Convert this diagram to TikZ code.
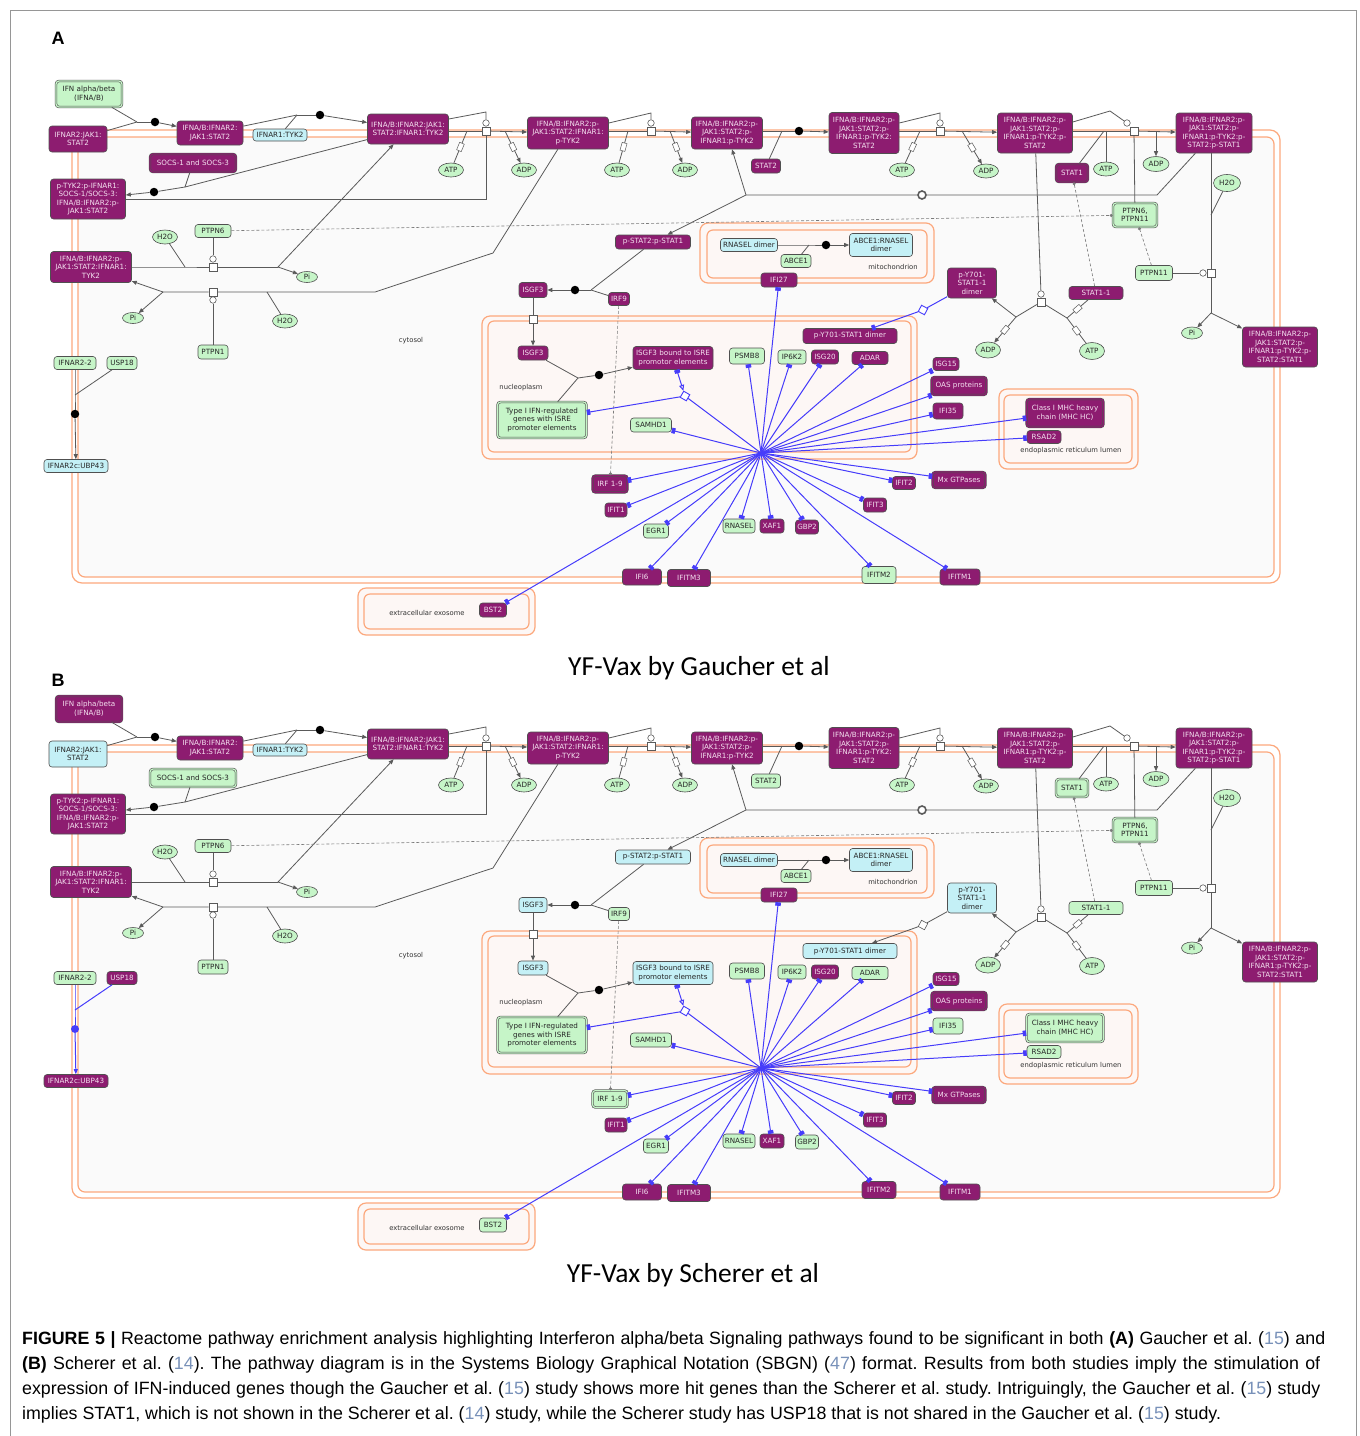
\documentclass[tikz,border=0pt]{standalone}
\usepackage{fontspec}
\setmainfont{Liberation Sans}
\newfontfamily\dvfont{DejaVu Sans}
\newfontfamily\calfont{Carlito}
\usetikzlibrary{arrows.meta,calc,shapes.geometric}
\definecolor{hitC}{RGB}{141,28,112}
\definecolor{hitT}{RGB}{245,225,240}
\definecolor{grnC}{RGB}{198,245,200}
\definecolor{cynC}{RGB}{196,240,246}
\definecolor{bordC}{RGB}{80,80,80}
\definecolor{orgC}{RGB}{252,168,125}
\definecolor{cmpC}{RGB}{253,247,245}
\definecolor{cytC}{RGB}{250,250,250}
\definecolor{lnC}{RGB}{90,90,90}
\definecolor{bluC}{RGB}{70,60,250}
\definecolor{refC}{RGB}{120,145,185}
\definecolor{frameC}{RGB}{150,150,150}
\newcommand\ndfont{\dvfont\fontsize{7.2}{8.6}\selectfont}
\newcommand\refnum[1]{\textcolor{refC}{#1}}
\frenchspacing
\tikzset{
 nd/.style={rectangle, rounded corners=3pt, draw=bordC, line width=0.6pt, inner sep=0.3pt, align=center, font=\ndfont},
 hit/.style={nd, fill=hitC, text=hitT},
 hitc/.style={hit, double=hitC, double distance=1.2pt},
 grn/.style={nd, fill=grnC, text=black!85},
 grnc/.style={grn, double=grnC, double distance=1.2pt},
 cyn/.style={nd, fill=cynC, text=black!85},
 ell/.style={ellipse, draw=bordC, fill=grnC, line width=0.6pt, inner sep=0pt, minimum width=25pt, minimum height=14pt, font=\ndfont, text=black!85},
 sz/.style 2 args={minimum width=#1pt, minimum height=#2pt},
 proc/.style={rectangle, draw=lnC, fill=white, line width=0.6pt, minimum size=8pt, inner sep=0pt},
 catc/.style={circle, draw=lnC, fill=white, line width=0.6pt, minimum size=6.5pt, inner sep=0pt},
 assoc/.style={circle, fill=black, minimum size=8.5pt, inner sep=0pt},
 bassoc/.style={circle, fill=bluC, minimum size=8pt, inner sep=0pt},
 dissoc/.style={circle, draw=lnC, fill=white, line width=1.6pt, minimum size=8pt, inner sep=0pt},
 card/.style={rectangle, draw=lnC, fill=white, line width=0.5pt, minimum width=8pt, minimum height=5pt, inner sep=0pt, sloped},
 ln/.style={draw=lnC, line width=0.8pt},
 arr/.style={ln, -{Triangle[length=5pt,width=4pt]}},
 bln/.style={draw=bluC, line width=1pt},
 barr/.style={bln, -{Rectangle[length=3.5pt,width=5.5pt]}},
 btarr/.style={bln, -{Triangle[length=5pt,width=4pt]}},
 bglyph/.style={rectangle, draw=bluC, fill=white, line width=0.9pt, minimum size=7pt, inner sep=0pt},
 dsh/.style={draw=lnC!80, line width=0.6pt, dash pattern=on 3pt off 2pt},
 lbl/.style={font=\dvfont\fontsize{6.8}{8}\selectfont, text=black!80},
 cmpo/.style={draw=orgC, line width=1.2pt, fill=cmpC, rounded corners=8pt},
 cmpi/.style={draw=orgC, line width=1.2pt, fill=cmpC, rounded corners=6pt},
}
\newcommand\drawpanel[1]{%
% compartments
\draw[cmpo, fill=white, rounded corners=10pt] (72,130) rectangle (1280,583);
\draw[cmpi, fill=cytC, rounded corners=7pt] (78,137) rectangle (1274,577);
\draw[cmpo] (700,223) rectangle (934,283);
\draw[cmpi] (707,230) rectangle (927,278);
\draw[cmpo] (482,316) rectangle (917,459);
\draw[cmpi] (488,321) rectangle (911,452);
\draw[cmpo] (999,389) rectangle (1138,469);
\draw[cmpi] (1004,395) rectangle (1132,463);
\draw[cmpo] (358,588) rectangle (535,635);
\draw[cmpi] (364,594) rectangle (529,629);
\node[lbl] (#1lcyt) at (411,341) {cytosol};
\node[lbl] (#1lnuc) at (521,388) {nucleoplasm};
\node[lbl] (#1lmit) at (893,267) {mitochondrion};
\node[lbl] (#1ler) at (1071,451) {endoplasmic reticulum lumen};
\node[lbl] (#1lexo) at (427,613) {extracellular exosome};
% nodes
\node[vIFN, sz={66}{26}] (#1ifn) at (89,94) {IFN alpha/beta\\(IFNA/B)};
\node[vIR2, sz={58}{26}] (#1ir2) at (78,139) {IFNAR2:JAK1:\\STAT2};
\node[hit, sz={66}{24}] (#1c3) at (210,133) {IFNA/B:IFNAR2:\\JAK1:STAT2};
\node[cyn, sz={54}{12}] (#1ir1) at (280,135) {IFNAR1:TYK2};
\node[hit, sz={81}{30}] (#1c5) at (408,129) {IFNA/B:IFNAR2:JAK1:\\STAT2:IFNAR1:TYK2};
\node[vSOCS, sz={86}{18}] (#1socs) at (193,163) {SOCS-1 and SOCS-3};
\node[hit, sz={75}{40}] (#1c7) at (88,199) {p-TYK2:p-IFNAR1:\\SOCS-1/SOCS-3:\\IFNA/B:IFNAR2:p-\\JAK1:STAT2};
\node[ell] (#1h2oa) at (165,237) {H2O};
\node[grn, sz={36}{13}] (#1ptpn6) at (213,231) {PTPN6};
\node[hit, sz={81}{31}] (#1c10) at (91,267) {IFNA/B:IFNAR2:p-\\JAK1:STAT2:IFNAR1:\\TYK2};
\node[ell, minimum width=21pt, minimum height=11pt] (#1pia) at (307,277) {Pi};
\node[ell, minimum width=21pt, minimum height=11pt] (#1pib) at (133,318) {Pi};
\node[ell] (#1h2ob) at (285,321) {H2O};
\node[grn, sz={30}{14}] (#1ptpn1) at (213,352) {PTPN1};
\node[grn, sz={42}{13}] (#1ir22) at (75,363) {IFNAR2-2};
\node[vUSP, sz={30}{13}] (#1usp) at (122,363) {USP18};
\node[vUBP, sz={64}{13}] (#1ubp) at (76,466) {IFNAR2c:UBP43};
\node[hit, sz={81}{32}] (#1c18) at (568,133) {IFNA/B:IFNAR2:p-\\JAK1:STAT2:IFNAR1:\\p-TYK2};
\node[ell] (#1atp1) at (451,170) {ATP};
\node[ell] (#1adp1) at (524,170) {ADP};
\node[ell] (#1atp2) at (617,170) {ATP};
\node[ell] (#1adp2) at (685,170) {ADP};
\node[hit, sz={71}{32}] (#1c23) at (727,133) {IFNA/B:IFNAR2:p-\\JAK1:STAT2:p-\\IFNAR1:p-TYK2};
\node[vSTAT2, sz={29}{14}] (#1stat2) at (766,166) {STAT2};
\node[hit, sz={70}{41}] (#1c25) at (864,133) {IFNA/B:IFNAR2:p-\\JAK1:STAT2:p-\\IFNAR1:p-TYK2:\\STAT2};
\node[ell] (#1atp3) at (902,170) {ATP};
\node[ell] (#1adp3) at (986,171) {ADP};
\node[hit, sz={75}{40}] (#1c35) at (1035,133) {IFNA/B:IFNAR2:p-\\JAK1:STAT2:p-\\IFNAR1:p-TYK2:p-\\STAT2};
\node[vSTAT1, sz={32}{18}] (#1stat1) at (1072,173) {STAT1};
\node[ell] (#1atp4) at (1106,169) {ATP};
\node[ell, minimum width=26pt, minimum height=15pt] (#1adp4) at (1156,164) {ADP};
\node[hit, sz={76}{40}] (#1c39) at (1214,133) {IFNA/B:IFNAR2:p-\\JAK1:STAT2:p-\\IFNAR1:p-TYK2:p-\\STAT2:p-STAT1};
\node[ell, minimum width=27pt, minimum height=17pt] (#1h2oc) at (1227,183) {H2O};
\node[grnc, sz={44}{24}] (#1ptpn611) at (1135,215) {PTPN6,\\PTPN11};
\node[grn, sz={37}{15}] (#1ptpn11) at (1154,273) {PTPN11};
\node[vPYD1, sz={49}{30}] (#1pyd1) at (972,283) {p-Y701-\\STAT1-1\\dimer};
\node[vSTAT11, sz={54}{13}] (#1stat11) at (1096,293) {STAT1-1};
\node[ell, minimum width=25pt, minimum height=16pt] (#1adp5) at (988,350) {ADP};
\node[ell, minimum width=25pt, minimum height=17pt] (#1atp5) at (1092,351) {ATP};
\node[ell, minimum width=21pt, minimum height=12pt] (#1pic) at (1192,333) {Pi};
\node[hit, sz={75}{40}] (#1c48) at (1280,347) {IFNA/B:IFNAR2:p-\\JAK1:STAT2:p-\\IFNAR1:p-TYK2:p-\\STAT2:STAT1};
\node[vPST, sz={75}{14}] (#1pst) at (653,242) {p-STAT2:p-STAT1};
\node[vISGa, sz={28}{15}] (#1isgf3a) at (533,290) {ISGF3};
\node[vIRF9, sz={21}{13}] (#1irf9) at (619,299) {IRF9};
\node[cyn, sz={57}{13}] (#1rnd) at (749,245) {RNASEL dimer};
\node[grn, sz={30}{13}] (#1abce1) at (796,261) {ABCE1};
\node[cyn, sz={63}{23}] (#1arn) at (881,245) {ABCE1:RNASEL\\dimer};
\node[hit, sz={36}{14}] (#1ifi27) at (779,280) {IFI27};
\node[vISGb, sz={30}{14}] (#1isgf3b) at (533,353) {ISGF3};
\node[vISRE, sz={80}{23}] (#1isre) at (673,358) {ISGF3 bound to ISRE\\promotor elements};
\node[grnc, sz={89}{36}] (#1genes) at (542,420) {Type I IFN-regulated\\genes with ISRE\\promoter elements};
\node[grn, sz={41}{14}] (#1samhd1) at (651,425) {SAMHD1};
\node[grn, sz={35}{16}] (#1psmb8) at (747,356) {PSMB8};
\node[grn, sz={28}{14}] (#1ip6k2) at (792,357) {IP6K2};
\node[hit, sz={27}{14}] (#1isg20) at (825,357) {ISG20};
\node[vADAR, sz={36}{13}] (#1adar) at (870,358) {ADAR};
\node[vPYD2, sz={94}{15}] (#1pyd2) at (850,336) {p-Y701-STAT1 dimer};
\node[hit, sz={26}{13}] (#1isg15) at (946,364) {ISG15};
\node[hitc, sz={55}{18}] (#1oas) at (959,386) {OAS proteins};
\node[vIFI35, sz={30}{16}] (#1ifi35) at (948,411) {IFI35};
\node[vMHC, sz={77}{28}] (#1mhc) at (1065,413) {Class I MHC heavy\\chain (MHC HC)};
\node[vRSAD2, sz={34}{13}] (#1rsad2) at (1044,437) {RSAD2};
\node[hitc, sz={53}{16}] (#1mx) at (959,480) {Mx GTPases};
\node[vIRF19, sz={35}{17}] (#1irf19) at (610,484) {IRF 1-9};
\node[hit, sz={22}{14}] (#1ifit1) at (616,510) {IFIT1};
\node[grn, sz={25}{14}] (#1egr1) at (656,531) {EGR1};
\node[grn, sz={32}{14}] (#1rnasel) at (739,526) {RNASEL};
\node[hit, sz={24}{14}] (#1xaf1) at (772,526) {XAF1};
\node[vGBP2, sz={23}{14}] (#1gbp2) at (807,527) {GBP2};
\node[hit, sz={23}{13}] (#1ifit2) at (904,483) {IFIT2};
\node[hit, sz={23}{14}] (#1ifit3) at (875,505) {IFIT3};
\node[hit, sz={39}{16}] (#1ifi6) at (642,577) {IFI6};
\node[hit, sz={43}{17}] (#1ifitm3) at (689,578) {IFITM3};
\node[vIFITM2, sz={34}{17}] (#1ifitm2) at (879,575) {IFITM2};
\node[hit, sz={40}{16}] (#1ifitm1) at (960,577) {IFITM1};
\node[vBST2, sz={27}{14}] (#1bst2) at (493,610) {BST2};
% R1
\coordinate (#1j1) at (137,122);
\node[assoc] (#1d1) at (155,122) {};
\draw[ln] (#1ifn) -- (#1j1);
\draw[ln] (#1ir2) -- (#1j1);
\draw[ln] (#1j1) -- (#1d1);
\draw[arr] (#1d1) -- (#1c3);
% R2
\coordinate (#1j2) at (297,115);
\node[assoc] (#1d2) at (320,115) {};
\draw[ln] (#1c3) -- (#1j2);
\draw[ln] (#1ir1) -- (#1j2);
\draw[ln] (#1j2) -- (#1d2);
\draw[arr] (#1d2) -- (#1c5);
% R3
\node[proc] (#1p3) at (486,131) {};
\node[catc] (#1p3c) at (486,123) {};
\coordinate (#1k3) at (486,112);
\draw[ln] ($(#1c5.east)+(0,-10)$) -- (#1k3) -- (#1p3c);
\draw[ln] (#1c5.east |- #1p3) -- (#1p3);
\draw[arr] (#1p3) -- (#1c18);
\coordinate (#1a1) at (467,131);
\draw[ln] (#1atp1) -- node[card]{} (#1a1);
\coordinate (#1a2) at (505,131);
\draw[arr] (#1a2) -- node[card]{} (#1adp1);
\coordinate (#1k3b) at (486,199);
\draw[ln] (#1p3) -- (#1k3b) -- (#1c7);
% SOCS
\coordinate (#1jS) at (185,187);
\node[assoc] (#1dS) at (154,192) {};
\draw[ln] (#1c5) -- (#1jS);
\draw[ln] (#1socs) -- (#1jS);
\draw[ln] (#1jS) -- (#1dS);
\draw[arr] (#1dS) -- (#1c7);
% R4
\coordinate (#1j4a) at (185,267);
\node[proc] (#1p4) at (213,267) {};
\node[catc] (#1p4c) at (213,259) {};
\coordinate (#1j4b) at (278,267);
\draw[ln] (#1c10) -- (#1j4a) -- (#1p4) -- (#1j4b);
\draw[ln] (#1h2oa) -- (#1j4a);
\draw[ln] (#1ptpn6) -- (#1p4c);
\draw[arr] (#1j4b) -- (#1pia);
\draw[arr] (#1j4b) -- (#1c5);
% R5
\coordinate (#1k5a) at (493,253);
\coordinate (#1k5b) at (375,292);
\node[proc] (#1p5) at (213,292) {};
\node[catc] (#1p5c) at (213,300) {};
\coordinate (#1j5h) at (267,292);
\coordinate (#1j5a) at (163,292);
\draw[ln] (#1c18) -- (#1k5a) -- (#1k5b) -- (#1p5) -- (#1j5a);
\draw[ln] (#1h2ob) -- (#1j5h);
\draw[ln] (#1ptpn1) -- (#1p5c);
\draw[arr] (#1j5a) -- (#1c10);
\draw[arr] (#1j5a) -- (#1pib);
% R6
\node[proc] (#1p6) at (651,131) {};
\node[catc] (#1p6c) at (651,123) {};
\coordinate (#1k6) at (651,113);
\draw[ln] ($(#1c18.east)+(0,-10)$) -- (#1k6) -- (#1p6c);
\draw[ln] (#1c18.east |- #1p6) -- (#1p6);
\draw[arr] (#1p6) -- (#1c23);
\coordinate (#1a3) at (628,131);
\draw[ln] (#1atp2) -- node[card]{} (#1a3);
\coordinate (#1a4) at (670,131);
\draw[arr] (#1a4) -- node[card]{} (#1adp2);
% R7
\node[assoc] (#1d7) at (799,131) {};
\coordinate (#1j7) at (782,131);
\draw[ln] (#1c23.east |- #1d7) -- (#1d7);
\draw[arr] (#1d7) -- (#1c25);
\draw[ln] (#1stat2) -- (#1j7);
% R8
\node[proc] (#1p8) at (940,131) {};
\node[catc] (#1p8c) at (940,123) {};
\coordinate (#1k8) at (940,113);
\draw[ln] ($(#1c25.east)+(0,-10)$) -- (#1k8) -- (#1p8c);
\draw[ln] (#1c25.east |- #1p8) -- (#1p8);
\draw[arr] (#1p8) -- (#1c35);
\coordinate (#1a5) at (920,131);
\draw[ln] (#1atp3) -- node[card]{} (#1a5);
\coordinate (#1a6) at (962,131);
\draw[arr] (#1a6) -- node[card]{} (#1adp3);
% R9
\node[proc] (#1p9) at (1134,131) {};
\node[catc] (#1p9c) at (1127,123) {};
\coordinate (#1k9) at (1110,111);
\draw[ln] ($(#1c35.east)+(0,-11)$) -- (#1k9) -- (#1p9c);
\draw[ln] (#1c35.east |- #1p9) -- (#1p9);
\draw[arr] (#1p9) -- (#1c39);
\coordinate (#1j9) at (1104,131);
\draw[ln] (#1stat1) -- (#1j9);
\draw[ln] (#1atp4) -- (#1atp4 |- #1j9);
\coordinate (#1a7) at (1156,131);
\draw[arr] (#1a7) -- (#1adp4);
\draw[ln] (#1p9) -- (#1ptpn611);
% dissociation
\coordinate (#1k10a) at (1157,195);
\node[dissoc] (#1o10) at (922,195) {};
\coordinate (#1k10b) at (746,195);
\draw[ln] (#1c39) -- (#1k10a) -- (#1o10) -- (#1k10b);
\draw[arr] (#1k10b) -- (#1c23);
\draw[arr] (#1k10b) -- (#1pst);
% R10
\node[proc] (#1p10) at (1041,302) {};
\node[catc] (#1p10c) at (1041,294) {};
\draw[ln] (#1c35) -- (#1p10c);
\coordinate (#1k10l) at (1016,317);
\coordinate (#1k10r) at (1067,318);
\draw[ln] (#1p10) -- (#1k10l);
\draw[arr] (#1k10l) -- (#1pyd1);
\draw[arr] (#1k10l) -- node[card]{} (#1adp5);
\draw[ln] (#1p10) -- (#1k10r);
\draw[ln] (#1stat11) -- node[card]{} (#1k10r);
\draw[ln] (#1atp5) -- node[card]{} (#1k10r);
% R11
\node[proc] (#1p11) at (1211,273) {};
\node[catc] (#1p11c) at (1203,273) {};
\coordinate (#1j11) at (1211,215);
\coordinate (#1k11) at (1211,313);
\draw[ln] (#1c39.south -| #1p11) -- (#1p11) -- (#1k11);
\draw[ln] (#1h2oc) -- (#1j11);
\draw[ln] (#1ptpn11) -- (#1p11c);
\draw[arr] (#1k11) -- (#1pic);
\draw[arr] (#1k11) -- (#1c48);
% R12
\coordinate (#1j12) at (591,290);
\node[assoc] (#1d12) at (575,290) {};
\draw[ln] (#1pst) -- (#1j12);
\draw[ln] (#1irf9) -- (#1j12);
\draw[ln] (#1j12) -- (#1d12);
\draw[arr] (#1d12) -- (#1isgf3a);
% R13
\node[proc] (#1p13) at (533,319) {};
\draw[ln] (#1isgf3a) -- (#1p13);
\draw[arr] (#1p13) -- (#1isgf3b);
% R14
\coordinate (#1j14) at (578,378);
\node[assoc] (#1d14) at (599,375) {};
\draw[ln] (#1isgf3b) -- (#1j14);
\draw[ln] (#1genes) -- (#1j14);
\draw[ln] (#1j14) -- (#1d14);
\draw[arr] (#1d14) -- (#1isre);
% R15
\coordinate (#1j15) at (809,245);
\node[assoc] (#1d15) at (826,245) {};
\draw[ln] (#1rnd) -- (#1j15) -- (#1d15);
\draw[arr] (#1d15) -- (#1arn);
\draw[ln] (#1abce1) -- (#1j15);
% USP18
\coordinate (#1j16) at (75,395);
\node[vUSPdot] (#1d16) at (75,414) {};
\draw[vUSPln] (#1ir22) -- (#1j16) -- (#1d16);
\draw[vUSParr] (#1d16) -- (#1ubp);
\draw[vUSPln] (#1usp) -- (#1j16);
% equivalence arcs
\draw[dsh, -{Circle[length=3pt]}] (#1ptpn6) -- (#1ptpn611);
\draw[dsh, {Circle[length=3pt]}-] (#1stat1) -- (#1stat11);
\draw[dsh, -{Circle[length=3pt]}] (#1ptpn11) -- (#1ptpn611);
\draw[dsh, -{Circle[length=3pt]}] (#1irf9) -- (#1irf19);
% gene expression hub
\coordinate (#1hub) at (761,453);
\foreach \t in {ifi27,psmb8,ip6k2,isg20,adar,isg15,oas,ifi35,mhc,rsad2,mx,ifit2,ifit3,ifitm1,ifitm2,gbp2,xaf1,rnasel,ifitm3,ifi6,egr1,bst2,ifit1,irf19,samhd1}
  {\draw[barr] (#1hub) -- (#1\t);}
\node[bglyph, rotate=-30] (#1g1) at (685,396) {};
\draw[bln] (#1hub) -- (#1g1);
\draw[barr] (#1g1) -- (#1genes);
\draw[bln, {Rectangle[length=3.5pt,width=5.5pt]}-{Triangle[open,length=6pt,width=5pt]}] (#1isre) -- (#1g1);
% p-Y701 transport
\node[vPYg, rotate=-28] (#1g2) at (923,310) {};
\draw[vPYln] (#1pyd1) -- (#1g2);
\draw[vPYarr] (#1g2) -- (#1pyd2);
}
\begin{document}
\begin{tikzpicture}[x=1pt, y=-1pt]
\useasboundingbox (0,0) rectangle (1360,1436);
\fill[white] (0,0) rectangle (1360,1436);
\draw[frameC, line width=0.8pt] (10,10) rectangle (1356,1445);
\node[font=\bfseries\fontsize{18}{20}\selectfont] (labA) at (58,38) {A};
\node[font=\bfseries\fontsize{18}{20}\selectfont] (labB) at (58,680) {B};
\begin{scope}
\tikzset{vIFN/.style={grnc}, vIR2/.style={hit}, vSOCS/.style={hitc}, vUSP/.style={grn}, vUBP/.style={cyn},
 vSTAT2/.style={hit}, vSTAT1/.style={hitc}, vPYD1/.style={hit}, vSTAT11/.style={hit}, vPST/.style={hit},
 vISGa/.style={hit}, vIRF9/.style={hit}, vISGb/.style={hit}, vISRE/.style={hit}, vADAR/.style={hit},
 vPYD2/.style={hit}, vIFI35/.style={hit}, vMHC/.style={hitc}, vRSAD2/.style={hit}, vIRF19/.style={hitc},
 vGBP2/.style={hit}, vIFITM2/.style={grn}, vBST2/.style={hit},
 vPYln/.style={bln}, vPYarr/.style={barr}, vPYg/.style={bglyph},
 vUSPln/.style={ln}, vUSParr/.style={arr}, vUSPdot/.style={assoc}}
\drawpanel{A}
\end{scope}
\begin{scope}[shift={(0,615)}]
\tikzset{vIFN/.style={hitc}, vIR2/.style={cyn}, vSOCS/.style={grnc}, vUSP/.style={hit}, vUBP/.style={hit},
 vSTAT2/.style={grn}, vSTAT1/.style={grnc}, vPYD1/.style={cyn}, vSTAT11/.style={grn}, vPST/.style={cyn},
 vISGa/.style={cyn}, vIRF9/.style={grn}, vISGb/.style={cyn}, vISRE/.style={cyn}, vADAR/.style={grn},
 vPYD2/.style={cyn}, vIFI35/.style={grn}, vMHC/.style={grnc}, vRSAD2/.style={grn}, vIRF19/.style={grnc},
 vGBP2/.style={grn}, vIFITM2/.style={hit}, vBST2/.style={grn},
 vPYln/.style={ln}, vPYarr/.style={arr}, vPYg/.style={proc, minimum size=7pt},
 vUSPln/.style={bln}, vUSParr/.style={btarr}, vUSPdot/.style={bassoc}}
\drawpanel{B}
\end{scope}
\node[font=\calfont\fontsize{27.5}{31}\selectfont] (titA) at (699,668) {YF-Vax by Gaucher et al};
\node[font=\calfont\fontsize{27.5}{31}\selectfont] (titB) at (693,1275) {YF-Vax by Scherer et al};
\begin{scope}[every node/.style={anchor=west, inner sep=0pt, font=\fontsize{17.8}{20}\selectfont}]
\node (cap1) at (22,1340) {\makebox[1303pt][s]{\textbf{FIGURE 5 |} Reactome pathway enrichment analysis highlighting Interferon alpha/beta Signaling pathways found to be significant in both \textbf{(A)} Gaucher et al. (\refnum{15}) and}};
\node (cap2) at (22,1365) {\makebox[1298pt][s]{\textbf{(B)} Scherer et al. (\refnum{14}). The pathway diagram is in the Systems Biology Graphical Notation (SBGN) (\refnum{47}) format. Results from both studies imply the stimulation of}};
\node (cap3) at (22,1390) {\makebox[1298pt][s]{expression of IFN-induced genes though the Gaucher et al. (\refnum{15}) study shows more hit genes than the Scherer et al. study. Intriguingly, the Gaucher et al. (\refnum{15}) study}};
\node (cap4) at (22,1415) {implies STAT1, which is not shown in the Scherer et al. (\refnum{14}) study, while the Scherer study has USP18 that is not shared in the Gaucher et al. (\refnum{15}) study.};
\end{scope}
\end{tikzpicture}
\end{document}
